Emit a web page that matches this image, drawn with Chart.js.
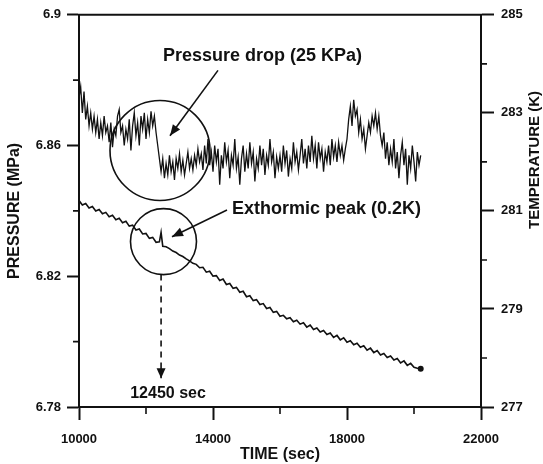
<!DOCTYPE html>
<html>
<head>
<meta charset="utf-8">
<script src="https://cdn.jsdelivr.net/npm/chart.js@4.4.1/dist/chart.umd.min.js"></script>
<style>
  html, body { margin: 0; padding: 0; background: #fff; }
  #c { display: block; }
</style>
</head>
<body>
<canvas id="c" width="543" height="464"></canvas>
<script>
// ── data ───────────────────────────────────────────────────
const PRESSURE_TIME = [
  10000,10050,10100,10150,10200,10250,10300,10350,10400,10450,
  10500,10550,10600,10650,10700,10750,10800,10850,10900,10950,
  11000,11050,11100,11150,11200,11250,11300,11350,11400,11450,
  11500,11550,11600,11650,11700,11750,11800,11850,11900,11950,
  12000,12050,12100,12150,12200,12250,12300,12350,12400,12450,
  12500,12550,12600,12650,12700,12750,12800,12850,12900,12950,
  13000,13050,13100,13150,13200,13250,13300,13350,13400,13450,
  13500,13550,13600,13650,13700,13750,13800,13850,13900,13950,
  14000,14050,14100,14150,14200,14250,14300,14350,14400,14450,
  14500,14550,14600,14650,14700,14750,14800,14850,14900,14950,
  15000,15050,15100,15150,15200,15250,15300,15350,15400,15450,
  15500,15550,15600,15650,15700,15750,15800,15850,15900,15950,
  16000,16050,16100,16150,16200,16250,16300,16350,16400,16450,
  16500,16550,16600,16650,16700,16750,16800,16850,16900,16950,
  17000,17050,17100,17150,17200,17250,17300,17350,17400,17450,
  17500,17550,17600,17650,17700,17750,17800,17850,17900,17950,
  18000,18050,18100,18150,18200,18250,18300,18350,18400,18450,
  18500,18550,18600,18650,18700,18750,18800,18850,18900,18950,
  19000,19050,19100,19150,19200,19250,19300,19350,19400,19450,
  19500,19550,19600,19650,19700,19750,19800,19850,19900,19950,
  20000,20050,20100,20150,20200
];
const PRESSURE = [
  6.8745,6.8780,6.8700,6.8765,6.8680,6.8720,6.8660,6.8700,6.8650,6.8690,
  6.8640,6.8680,6.8620,6.8670,6.8630,6.8690,6.8640,6.8660,6.8610,6.8670,
  6.8595,6.8650,6.8630,6.8690,6.8710,6.8640,6.8660,6.8600,6.8650,6.8620,
  6.8680,6.8585,6.8660,6.8700,6.8630,6.8670,6.8600,6.8690,6.8650,6.8700,
  6.8620,6.8680,6.8640,6.8705,6.8660,6.8690,6.8640,6.8600,6.8560,6.8520,
  6.8560,6.8500,6.8545,6.8510,6.8570,6.8520,6.8550,6.8495,6.8560,6.8530,
  6.8575,6.8520,6.8555,6.8510,6.8545,6.8580,6.8530,6.8560,6.8525,6.8570,
  6.8540,6.8590,6.8550,6.8575,6.8525,6.8600,6.8545,6.8620,6.8540,6.8580,
  6.8520,6.8600,6.8550,6.8590,6.8480,6.8570,6.8530,6.8610,6.8550,6.8585,
  6.8500,6.8570,6.8540,6.8620,6.8530,6.8565,6.8480,6.8560,6.8600,6.8520,
  6.8575,6.8530,6.8610,6.8545,6.8580,6.8490,6.8560,6.8530,6.8600,6.8540,
  6.8590,6.8510,6.8570,6.8540,6.8620,6.8550,6.8580,6.8500,6.8565,6.8530,
  6.8570,6.8520,6.8600,6.8545,6.8585,6.8505,6.8560,6.8530,6.8610,6.8550,
  6.8580,6.8525,6.8570,6.8620,6.8545,6.8590,6.8530,6.8600,6.8550,6.8630,
  6.8560,6.8600,6.8530,6.8610,6.8560,6.8590,6.8520,6.8580,6.8550,6.8600,
  6.8540,6.8620,6.8565,6.8600,6.8550,6.8610,6.8570,6.8600,6.8555,6.8590,
  6.8620,6.8680,6.8720,6.8660,6.8740,6.8690,6.8710,6.8640,6.8680,6.8620,
  6.8650,6.8590,6.8630,6.8670,6.8640,6.8690,6.8660,6.8700,6.8650,6.8690,
  6.8630,6.8600,6.8640,6.8560,6.8610,6.8540,6.8590,6.8550,6.8620,6.8530,
  6.8580,6.8500,6.8570,6.8610,6.8540,6.8590,6.8480,6.8570,6.8530,6.8600,
  6.8550,6.8490,6.8580,6.8540,6.8570
];

const TEMP_TIME = [
  10000,10100,10200,10300,10400,10500,10600,10700,10800,10900,
  11000,11100,11200,11300,11400,11500,11600,11700,11800,11900,
  12000,12100,12200,12300,12400,12450,12500,12600,12700,12800,12900,
  13000,13100,13200,13300,13400,13500,13600,13700,13800,13900,
  14000,14100,14200,14300,14400,14500,14600,14700,14800,14900,
  15000,15100,15200,15300,15400,15500,15600,15700,15800,15900,
  16000,16100,16200,16300,16400,16500,16600,16700,16800,16900,
  17000,17100,17200,17300,17400,17500,17600,17700,17800,17900,
  18000,18100,18200,18300,18400,18500,18600,18700,18800,18900,
  19000,19100,19200,19300,19400,19500,19600,19700,19800,19900,
  20000,20100,20200
];
const TEMPERATURE = [
  281.21,281.12,281.15,281.06,281.09,281.00,281.03,280.94,280.97,280.88,
  280.91,280.82,280.85,280.76,280.79,280.69,280.71,280.61,280.63,280.53,
  280.54,280.44,280.46,280.36,280.37,280.56,280.28,280.27,280.23,280.18,280.15,
  280.10,280.07,280.02,279.98,279.93,279.91,279.84,279.85,279.75,279.77,
  279.67,279.68,279.58,279.61,279.50,279.52,279.42,279.44,279.34,279.36,
  279.25,279.27,279.17,279.19,279.09,279.11,279.01,279.03,278.93,278.95,
  278.85,278.87,278.80,278.82,278.74,278.77,278.69,278.72,278.63,278.67,
  278.58,278.61,278.53,278.56,278.48,278.51,278.42,278.46,278.37,278.41,
  278.32,278.35,278.27,278.30,278.22,278.25,278.16,278.20,278.11,278.15,
  278.06,278.09,278.01,278.04,277.96,277.99,277.90,277.94,277.85,277.89,
  277.81,277.79,277.78
];

const TIME_TICKS      = [10000, 14000, 18000, 22000];
const TIME_MINOR      = [12000, 16000, 20000];
const PRESSURE_TICKS  = [6.78, 6.82, 6.86, 6.9];
const PRESSURE_MINOR  = [6.80, 6.84, 6.88];
const TEMP_TICKS      = [277, 279, 281, 283, 285];
const TEMP_MINOR      = [278, 280, 282, 284];

const EVENT_TIME = 12450;

// ── styling ────────────────────────────────────────────────
const FONT = "'Liberation Sans', Arial, Helvetica, sans-serif";
const INK  = '#111';

// top frame line, minor ticks, right title, annotations
const decor = {
  id: 'decor',
  afterDraw(chart) {
    const { ctx, chartArea: a, scales } = chart;
    const X = scales.x, P = scales.y, T = scales.y2;
    ctx.save();
    ctx.strokeStyle = INK;
    ctx.fillStyle = INK;

    // top frame
    ctx.lineWidth = 2;
    ctx.beginPath();
    ctx.moveTo(a.left - 1, a.top);
    ctx.lineTo(a.right + 1, a.top);
    ctx.stroke();

    // minor ticks (outward, short)
    ctx.lineWidth = 1.6;
    ctx.beginPath();
    PRESSURE_MINOR.forEach(v => { const y = P.getPixelForValue(v); ctx.moveTo(a.left - 6, y); ctx.lineTo(a.left, y); });
    TEMP_MINOR.forEach(v => { const y = T.getPixelForValue(v); ctx.moveTo(a.right, y); ctx.lineTo(a.right + 6, y); });
    TIME_MINOR.forEach(v => { const x = X.getPixelForValue(v); ctx.moveTo(x, a.bottom); ctx.lineTo(x, a.bottom + 7); });
    ctx.stroke();

    // right axis title (reads bottom to top)
    ctx.save();
    ctx.translate(535, 160);
    ctx.rotate(-Math.PI / 2);
    ctx.font = `bold 15px ${FONT}`;
    ctx.textAlign = 'center';
    ctx.textBaseline = 'middle';
    ctx.fillText('TEMPERATURE (K)', 0, 0);
    ctx.restore();

    const px = t => X.getPixelForValue(t);
    const py = p => P.getPixelForValue(p);

    const arrow = (x1, y1, x2, y2, len, half) => {
      ctx.beginPath();
      ctx.moveTo(x1, y1);
      ctx.lineTo(x2, y2);
      ctx.stroke();
      const ang = Math.atan2(y2 - y1, x2 - x1);
      ctx.beginPath();
      ctx.moveTo(x2, y2);
      ctx.lineTo(x2 - len * Math.cos(ang) + half * Math.sin(ang), y2 - len * Math.sin(ang) - half * Math.cos(ang));
      ctx.lineTo(x2 - len * Math.cos(ang) - half * Math.sin(ang), y2 - len * Math.sin(ang) + half * Math.cos(ang));
      ctx.closePath();
      ctx.fill();
    };

    // circles
    ctx.lineWidth = 1.6;
    ctx.beginPath();
    ctx.arc(px(12418), py(6.8585), 50, 0, Math.PI * 2);
    ctx.stroke();
    const c2x = px(12522), c2y = py(6.8306), c2r = 33;
    ctx.beginPath();
    ctx.arc(c2x, c2y, c2r, 0, Math.PI * 2);
    ctx.stroke();

    // arrows to circles
    arrow(px(14149), py(6.8830), px(12716), py(6.8630), 11, 4.5);
    arrow(px(14418), py(6.8403), px(12776), py(6.8321), 11, 4.5);

    // dashed drop line at event time
    const ex = px(EVENT_TIME);
    ctx.setLineDash([6, 5]);
    ctx.beginPath();
    ctx.moveTo(ex, c2y + c2r);
    ctx.lineTo(ex, py(6.7888) - 8);
    ctx.stroke();
    ctx.setLineDash([]);
    arrow(ex, py(6.7888) - 10, ex, py(6.7888), 10, 4.5);

    // labels
    ctx.font = `bold 18px ${FONT}`;
    ctx.textAlign = 'left';
    ctx.textBaseline = 'middle';
    ctx.fillText('Pressure drop (25 KPa)', px(12507), py(6.8873));
    ctx.fillText('Exthormic peak (0.2K)', px(14567), py(6.8406));
    ctx.font = `bold 16px ${FONT}`;
    ctx.textAlign = 'center';
    ctx.fillText(EVENT_TIME + ' sec', px(12657), py(6.7842));

    ctx.restore();
  }
};

const tickFont = { family: FONT, size: 13, weight: 'bold' };
const titleFont = { family: FONT, size: 16, weight: 'bold' };

new Chart(document.getElementById('c'), {
  type: 'line',
  data: {
    datasets: [
      {
        label: 'Pressure',
        data: PRESSURE_TIME.map((t, i) => ({ x: t, y: PRESSURE[i] })),
        yAxisID: 'y',
        borderColor: INK, borderWidth: 1.3,
        pointRadius: 0,
        tension: 0, fill: false,
      },
      {
        label: 'Temperature',
        data: TEMP_TIME.map((t, i) => ({ x: t, y: TEMPERATURE[i] })),
        yAxisID: 'y2',
        borderColor: INK, borderWidth: 1.6,
        pointRadius: ctx => ctx.dataIndex === TEMPERATURE.length - 1 ? 3 : 0,
        pointBackgroundColor: INK, pointBorderWidth: 0,
        tension: 0, fill: false,
      },
    ]
  },
  options: {
    responsive: false, animation: false,
    layout: { padding: { top: 11, left: 0, right: 0, bottom: 0 } },
    plugins: { legend: { display: false }, tooltip: { enabled: false } },
    scales: {
      x: {
        type: 'linear', position: 'bottom', min: 10000, max: 22000,
        afterFit: s => { s.height = 57; },
        afterBuildTicks: s => { s.ticks = TIME_TICKS.map(v => ({ value: v })); },
        grid: { drawOnChartArea: false, drawTicks: true, tickLength: 13, tickColor: INK, tickWidth: 2 },
        border: { display: true, color: INK, width: 2 },
        ticks: { color: INK, font: tickFont, padding: 12, maxRotation: 0, callback: v => String(v) },
        title: { display: true, text: 'TIME (sec)', color: INK, font: titleFont, padding: { top: 0, bottom: 0 } },
      },
      y: {
        type: 'linear', position: 'left', min: 6.78, max: 6.9,
        afterFit: s => { s.width = 79; },
        afterBuildTicks: s => { s.ticks = PRESSURE_TICKS.map(v => ({ value: v })); },
        grid: { drawOnChartArea: false, drawTicks: true, tickLength: 12, tickColor: INK, tickWidth: 2 },
        border: { display: true, color: INK, width: 2 },
        ticks: { color: INK, font: tickFont, padding: 6, callback: v => String(+v.toFixed(2)) },
        title: { display: true, text: 'PRESSURE (MPa)', color: INK, font: titleFont, padding: { top: 5, bottom: 0 } },
      },
      y2: {
        type: 'linear', position: 'right', min: 277, max: 285,
        afterFit: s => { s.width = 62; },
        afterBuildTicks: s => { s.ticks = TEMP_TICKS.map(v => ({ value: v })); },
        grid: { drawOnChartArea: false, drawTicks: true, tickLength: 13, tickColor: INK, tickWidth: 2 },
        border: { display: true, color: INK, width: 2 },
        ticks: { color: INK, font: tickFont, padding: 7, callback: v => String(v) },
        title: { display: false },
      },
    }
  },
  plugins: [decor]
});
</script>
</body>
</html>
